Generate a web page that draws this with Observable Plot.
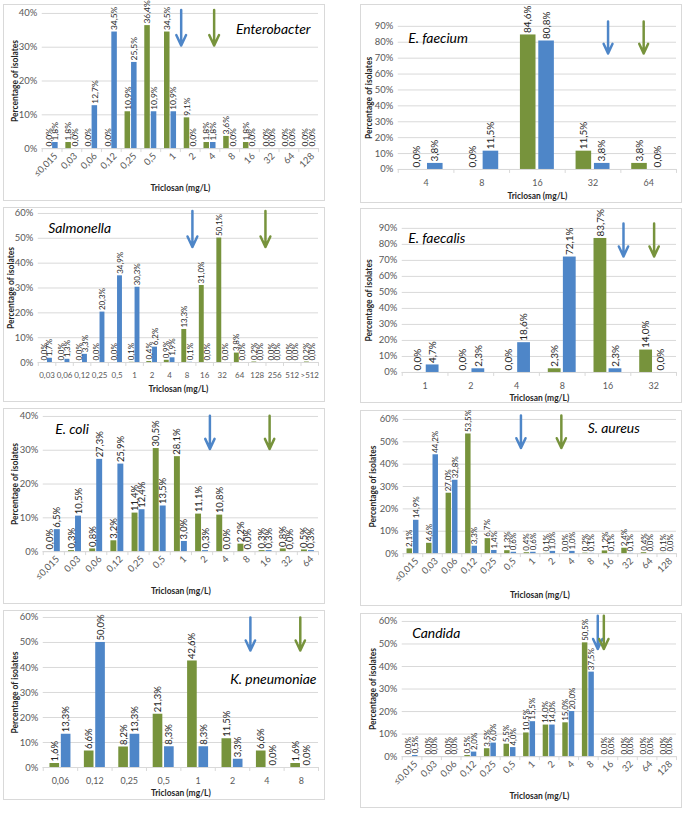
<!DOCTYPE html>
<html><head><meta charset="utf-8">
<script src="https://cdn.jsdelivr.net/npm/d3@7"></script>
<script src="https://cdn.jsdelivr.net/npm/@observablehq/plot@0.6"></script>
<style>
body{margin:0;background:#fff;}
#fig{position:relative;width:686px;height:813px;font-family:Lato,"Liberation Sans",Arial,sans-serif;}
.panel{position:absolute;border:1px solid #d9d9d9;box-sizing:border-box;background:#fff;}
.panel svg{position:absolute;left:-1px;top:-1px;overflow:visible;}
</style></head><body><div id="fig"></div>
<script>
const GREEN = "#77933c", BLUE = "#4e86c8";

// ---------- Data ----------
const mic14 = ["≤0,015","0,03","0,06","0,12","0,25","0,5","1","2","4","8","16","32","64","128"];

const enteroCats = mic14;
const enteroGreen = [0.0,1.8,0.0,0.0,10.9,36.4,34.5,9.1,1.8,3.6,1.8,0.0,0.0,0.0];
const enteroBlue  = [1.8,0.0,12.7,34.5,25.5,10.9,10.9,0.0,1.8,0.0,0.0,0.0,0.0,0.0];
const enteroArrows = [{s:"b", at:7.04, from:41, to:30.5},{s:"g", at:8.71, from:41, to:30.5}];

const faeciumCats = ["4","8","16","32","64"];
const faeciumGreen = [0.0,0.0,84.6,11.5,3.8];
const faeciumBlue  = [3.8,11.5,80.8,3.8,0.0];
const faeciumArrows = [{s:"b", at:3.77, from:93, to:73},{s:"g", at:4.41, from:93, to:73}];

const salmCats = ["0,03","0,06","0,12","0,25","0,5","1","2","4","8","16","32","64","128","256","512",">512"];
const salmGreen = [0.0,0.0,0.0,0.0,0.0,0.1,0.4,0.9,13.3,31.0,50.1,3.8,0.2,0.0,0.0,0.2];
const salmBlue  = [1.7,1.3,3.3,20.3,34.9,30.3,6.2,1.9,0.1,0.0,0.0,0.0,0.0,0.0,0.0,0.0];
const salmArrows = [{s:"b", at:8.8, from:61, to:46.5},{s:"g", at:12.97, from:61, to:46.5}];

const faecalisCats = ["1","2","4","8","16","32"];
const faecalisGreen = [0.0,0.0,0.0,2.3,83.7,14.0];
const faecalisBlue  = [4.7,2.3,18.6,72.1,2.3,0.0];
const faecalisArrows = [{s:"b", at:4.84, from:93, to:72.5},{s:"g", at:5.51, from:93, to:72.5}];

const coliCats = ["≤0,015","0,03","0,06","0,12","0,25","0,5","1","2","4","8","16","32","64"];
const coliGreen = [0.0,0.3,0.8,3.2,11.4,30.5,28.1,11.1,10.8,2.2,0.3,0.8,0.5];
const coliBlue  = [6.5,10.5,27.3,25.9,12.4,13.5,3.0,0.3,0.0,0.0,0.3,0.0,0.3];
const coliArrows = [{s:"b", at:7.87, from:40.2, to:30.4},{s:"g", at:10.69, from:40.2, to:30.4}];

const aureusCats = mic14;
const aureusGreen = [2.1,4.6,27.0,53.5,6.7,1.3,0.4,0.1,0.0,0.2,1.2,2.4,0.4,0.1];
const aureusBlue  = [14.9,44.2,32.8,3.3,1.4,0.6,0.6,1.0,1.0,0.1,0.1,0.1,0.0,0.0];
const aureusArrows = [{s:"b", at:6.03, from:61.8, to:47.2},{s:"g", at:8.1, from:61.8, to:47.2}];

const kpnCats = ["0,06","0,12","0,25","0,5","1","2","4","8"];
const kpnGreen = [1.6,6.6,8.2,21.3,42.6,11.5,6.6,1.6];
const kpnBlue  = [13.3,50.0,13.3,8.3,8.3,3.3,0.0,0.0];
const kpnArrows = [{s:"b", at:6.02, from:60, to:46.8},{s:"g", at:7.47, from:60, to:46.8}];

const candCats = mic14;
const candGreen = [0.0,0.0,0.0,0.5,3.5,5.5,10.5,14.0,15.0,50.5,0.0,0.0,0.0,0.0];
const candBlue  = [0.5,0.0,0.0,2.0,6.0,4.0,15.5,14.0,20.0,37.5,0.0,0.0,0.0,0.0];
const candArrows = [{s:"b", at:9.98, from:62.5, to:47.8},{s:"g", at:10.29, from:62.5, to:47.8}];

// ---------- Layout ----------
const panels = [
  {title:"Enterobacter", cats:enteroCats, green:enteroGreen, blue:enteroBlue, arrows:enteroArrows, ymax:40,
   box:[3,4,322,197], m:[39,5,9,52], rot:true, lab:8.5, tick:9.5, tAnchor:"top-right", tdx:-8, tdy:16, xdy:40, ydx:-27},
  {title:"E. faecium", cats:faeciumCats, green:faeciumGreen, blue:faeciumBlue, arrows:faeciumArrows, ymax:90,
   box:[360,4,322,199], m:[38,4,22,33], rot:false, lab:10, tick:9, tAnchor:"top-left", tdx:10, tdy:12, xdy:27, ydx:-29},
  {title:"Salmonella", cats:salmCats, green:salmGreen, blue:salmBlue, arrows:salmArrows, ymax:60,
   box:[3,207,322,195], m:[35,5,6,39], rot:false, lab:8, tick:8, tAnchor:"top-left", tdx:10, tdy:15, xdy:27, ydx:-27},
  {title:"E. faecalis", cats:faecalisCats, green:faecalisGreen, blue:faecalisBlue, arrows:faecalisArrows, ymax:90,
   box:[360,208,322,195], m:[42,4,20,30], rot:false, lab:10, tick:9, tAnchor:"top-left", tdx:6, tdy:10, xdy:26, ydx:-33},
  {title:"E. coli", cats:coliCats, green:coliGreen, blue:coliBlue, arrows:coliArrows, ymax:40,
   box:[3,408,322,196], m:[40,5,8,52], rot:true, lab:9.5, tick:9.5, tAnchor:"top-left", tdx:12, tdy:13, xdy:40, ydx:-28},
  {title:"S. aureus", cats:aureusCats, green:aureusGreen, blue:aureusBlue, arrows:aureusArrows, ymax:60,
   box:[360,410,322,196], m:[43,4,9,52], rot:true, lab:8, tick:9.5, tAnchor:"top-right", tdx:-37, tdy:9, xdy:42, ydx:-30},
  {title:"K. pneumoniae", cats:kpnCats, green:kpnGreen, blue:kpnBlue, arrows:kpnArrows, ymax:60,
   box:[3,610,322,190], m:[40,5,7,32], rot:false, lab:9.5, tick:9, tAnchor:"top-right", tdx:-2, tdy:62, xdy:26, ydx:-28},
  {title:"Candida", cats:candCats, green:candGreen, blue:candBlue, arrows:candArrows, ymax:60,
   box:[360,613,322,195], m:[42,4,8,51], rot:true, lab:8, tick:9.5, tAnchor:"top-left", tdx:10, tdy:12, xdy:40, ydx:-29}
];

const FONT = "Lato, 'Liberation Sans', Arial, sans-serif";
const fmt = v => v.toFixed(1).replace(".", ",") + "%";
const BW = 0.28, GAP = 0.025;

function makePanel(p) {
  const n = p.cats.length;
  const rows = [];
  p.cats.forEach((c, i) => {
    rows.push({i, s:"g", v:p.green[i]});
    rows.push({i, s:"b", v:p.blue[i]});
  });
  const x1 = d => d.s === "g" ? d.i + 0.5 - GAP - BW : d.i + 0.5 + GAP;
  const x2 = d => x1(d) + BW;
  const xc = d => x1(d) + BW / 2;
  const yt = d3.range(0, p.ymax + 1, 10);
  const gRows = rows.filter(d => d.s === "g"), bRows = rows.filter(d => d.s === "b");
  return Plot.plot({
    width: p.box[2], height: p.box[3],
    marginLeft: p.m[0], marginRight: p.m[1], marginTop: p.m[2], marginBottom: p.m[3],
    style: {fontFamily: FONT, background: "transparent", overflow: "visible"},
    x: {type: "linear", domain: [0, n]},
    y: {domain: [0, p.ymax]},
    marks: [
      Plot.gridY(yt, {stroke: "#d9d9d9", strokeOpacity: 1}),
      Plot.axisY(yt, {tickSize: 0, tickPadding: 5, tickFormat: d => d + "%", fontSize: 9.5, fill: "#595959", label: null}),
      Plot.axisX(d3.range(n + 1), {tickSize: 4, tickFormat: () => "", stroke: "#d9d9d9", label: null}),
      Plot.axisX(d3.range(n).map(i => i + 0.5), {
        tickSize: 0, tickPadding: p.rot ? 6 : 10, tickRotate: p.rot ? -45 : 0, dx: p.rot ? 4 : 0,
        tickFormat: d => p.cats[Math.floor(d)], fontSize: p.tick, fill: "#595959", label: null}),
      Plot.ruleY([0], {stroke: "#d9d9d9"}),
      Plot.rectY(gRows, {x1, x2, y: "v", fill: GREEN}),
      Plot.rectY(bRows, {x1, x2, y: "v", fill: BLUE}),
      Plot.text(rows, {x: xc, y: "v", text: d => fmt(d.v), rotate: -90, textAnchor: "start", lineAnchor: "middle",
        dy: -2, fontSize: p.lab, fill: "#262626"}),
      Plot.arrow(p.arrows.filter(a => a.s === "b"), {x: "at", y1: "from", y2: "to", stroke: BLUE, strokeWidth: 2.5, headLength: 7, headAngle: 50}),
      Plot.arrow(p.arrows.filter(a => a.s === "g"), {x: "at", y1: "from", y2: "to", stroke: GREEN, strokeWidth: 2.5, headLength: 7, headAngle: 50}),
      Plot.text([p.title], {frameAnchor: p.tAnchor, lineAnchor: "middle", dx: p.tdx, dy: p.tdy,
        fontSize: 14, fontStyle: "italic", fill: "#000"}),
      Plot.text(["Percentage of isolates"], {frameAnchor: "left", textAnchor: "middle", lineAnchor: "middle",
        rotate: -90, dx: p.ydx, fontSize: 8.5, fontWeight: "bold", fill: "#262626"}),
      Plot.text(["Triclosan (mg/L)"], {frameAnchor: "bottom", textAnchor: "middle", lineAnchor: "middle",
        dy: p.xdy, fontSize: 8.5, fontWeight: "bold", fill: "#262626"})
    ]
  });
}

const fig = document.getElementById("fig");
for (const p of panels) {
  const div = document.createElement("div");
  div.className = "panel";
  Object.assign(div.style, {left: p.box[0] + "px", top: p.box[1] + "px", width: p.box[2] + "px", height: p.box[3] + "px"});
  div.appendChild(makePanel(p));
  fig.appendChild(div);
}
</script>
</body></html>
